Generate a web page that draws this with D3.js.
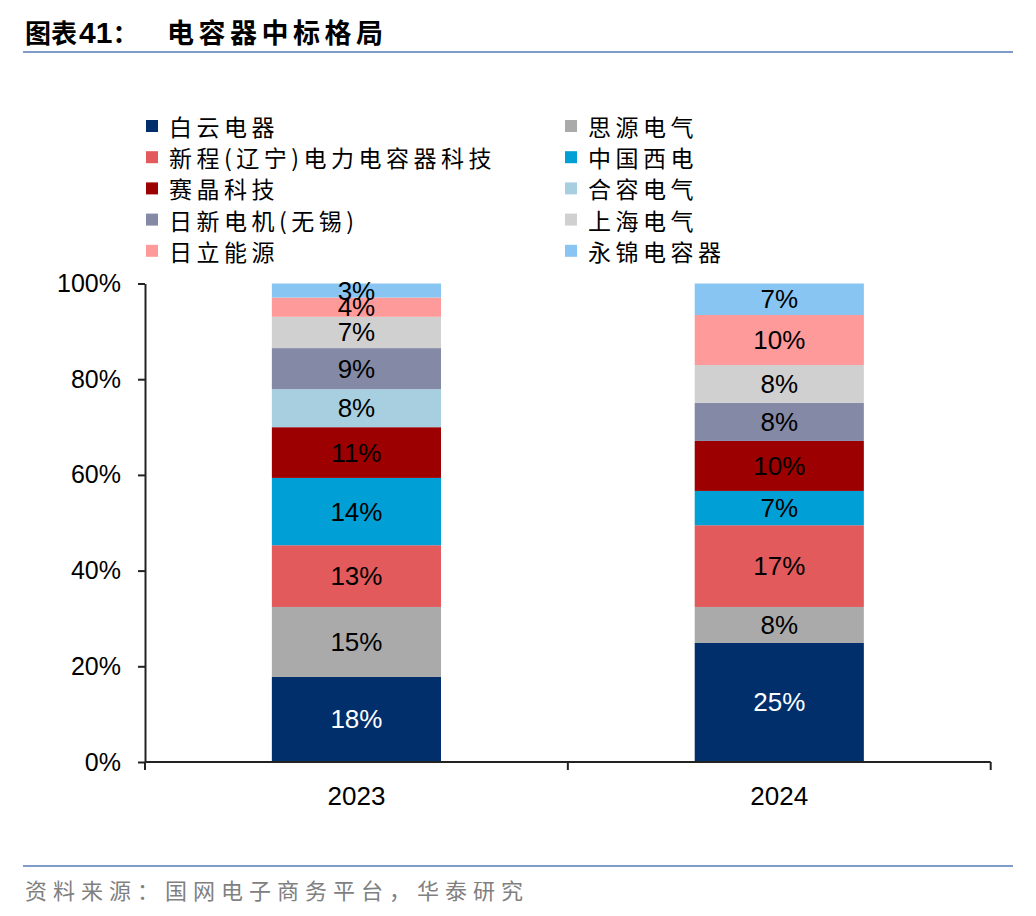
<!DOCTYPE html>
<html>
<head>
<meta charset="utf-8">
<script src="https://cdn.jsdelivr.net/npm/d3@7/dist/d3.min.js"></script>
<style>
  html, body { margin: 0; padding: 0; background: #fff; }
  svg { display: block; }
</style>
</head>
<body>
<svg id="chart" width="1036" height="916"></svg>
<script>
// ---- data ----
const years = ["2023", "2024"];
const companies = ["白云电器", "思源电气", "新程(辽宁)电力电容器科技", "中国西电", "赛晶科技",
                   "合容电气", "日新电机(无锡)", "上海电气", "日立能源", "永锦电容器"];
const share2023 = [17.77, 14.63, 12.90, 14.07, 10.60, 7.95, 8.58, 6.54, 4.03, 2.93];
const share2024 = [24.87, 7.53, 17.08, 7.17, 10.45, 0, 7.94, 7.93, 10.45, 6.58];
const colors = ["#002f6c", "#aaaaaa", "#e35a5c", "#009fd6", "#9c0000",
                "#a8cfdf", "#848aa6", "#d0d0d0", "#fe9a9a", "#88c5f2"];
const yTicks = [0, 20, 40, 60, 80, 100];
const titlePrefix = "图表";
const titleNum = "41";
const titleColon = "：";
const titleMain = "电容器中标格局";
const source = "资料来源：国网电子商务平台，华泰研究";

const rows = years.map((y, i) => {
  const o = { year: y };
  const s = i === 0 ? share2023 : share2024;
  companies.forEach((c, j) => o[c] = s[j]);
  return o;
});

const svg = d3.select("#chart");
const latin = "'Liberation Sans', Arial, sans-serif";
const cjk = "'Noto Sans CJK SC', 'Liberation Sans', sans-serif";

// title
const t1 = svg.append("text").attr("x", 25).attr("y", 43)
  .attr("font-family", cjk).attr("font-weight", "bold").attr("font-size", 26)
  .attr("fill", "#000");
t1.append("tspan").text(titlePrefix);
t1.append("tspan").attr("dx", 2).attr("font-family", latin).attr("font-size", 30).text(titleNum);
t1.append("tspan").attr("dx", 0).text(titleColon);
svg.append("text").attr("x", 167).attr("y", 43)
  .attr("font-family", cjk).attr("font-weight", "bold").attr("font-size", 27)
  .attr("letter-spacing", 4.5).attr("fill", "#000").text(titleMain);
svg.append("line").attr("x1", 23).attr("x2", 1013).attr("y1", 52).attr("y2", 52)
  .attr("stroke", "#7f9bc7").attr("stroke-width", 2);

// footer
svg.append("line").attr("x1", 23).attr("x2", 1013).attr("y1", 866).attr("y2", 866)
  .attr("stroke", "#7f9bc7").attr("stroke-width", 2);
svg.append("text").attr("x", 25).attr("y", 899)
  .attr("font-family", cjk).attr("font-size", 22).attr("letter-spacing", 6)
  .attr("fill", "#808080").text(source);

// scales
const x = d3.scaleBand().domain(years).range([145, 990.7]).paddingInner(0.6).paddingOuter(0.3);
const y = d3.scaleLinear().domain([0, 100]).range([762, 283.5]);

const stacked = d3.stack().keys(companies)(rows);

// bars
const layers = svg.append("g").selectAll("g").data(stacked).join("g")
  .attr("fill", (d, i) => colors[i]);
layers.selectAll("rect").data(d => d).join("rect")
  .attr("x", d => x(d.data.year))
  .attr("width", x.bandwidth())
  .attr("y", d => y(d[1]))
  .attr("height", d => y(d[0]) - y(d[1]));

// labels
stacked.forEach((layer, i) => {
  svg.append("g").selectAll("text").data(layer.filter(d => d[1] - d[0] > 0)).join("text")
    .attr("x", d => x(d.data.year) + x.bandwidth() / 2)
    .attr("y", d => (y(d[0]) + y(d[1])) / 2)
    .attr("text-anchor", "middle").attr("dominant-baseline", "central")
    .attr("font-family", latin).attr("font-size", 26)
    .attr("fill", i === 0 ? "#fff" : "#000")
    .text(d => Math.round(d[1] - d[0]) + "%");
});

// y axis
const yAxis = svg.append("g").attr("transform", "translate(145,0)")
  .call(d3.axisLeft(y).tickValues(yTicks).tickFormat(d => d + "%").tickSize(7).tickSizeOuter(0).tickPadding(17));
yAxis.select(".domain").attr("stroke", "#222").attr("stroke-width", 2);
yAxis.selectAll(".tick line").attr("stroke", "#222").attr("stroke-width", 2);
yAxis.selectAll("text").attr("font-family", latin).attr("font-size", 25).attr("fill", "#000");

// x axis
const xAxis = svg.append("g").attr("transform", "translate(0,762)")
  .call(d3.axisBottom(x).tickSize(0).tickPadding(25));
xAxis.select(".domain").attr("stroke", "#222").attr("stroke-width", 2)
  .attr("d", "M145,0H990.7");
xAxis.selectAll("text").attr("font-family", latin).attr("font-size", 26).attr("fill", "#000");
// category separator ticks
const sepTicks = [145, (x(years[0]) + x.bandwidth() + x(years[1])) / 2, 990.7];
xAxis.selectAll(".sep").data(sepTicks).join("line").attr("class", "sep")
  .attr("x1", d => d).attr("x2", d => d).attr("y1", 0).attr("y2", 8)
  .attr("stroke", "#222").attr("stroke-width", 2);

// legend
const legend = svg.append("g");
companies.forEach((c, i) => {
  const col = i % 2, row = Math.floor(i / 2);
  const lx = col === 0 ? 146 : 565;
  const ly = 126 + row * 31.2;
  legend.append("rect").attr("x", lx).attr("y", ly - 6).attr("width", 12).attr("height", 12)
    .attr("fill", colors[i]);
  legend.append("text").attr("x", lx + 23).attr("y", ly)
    .attr("dominant-baseline", "central")
    .attr("font-family", cjk).attr("font-size", 23).attr("letter-spacing", 4.5)
    .attr("fill", "#000").text(c);
});
</script>
</body>
</html>
